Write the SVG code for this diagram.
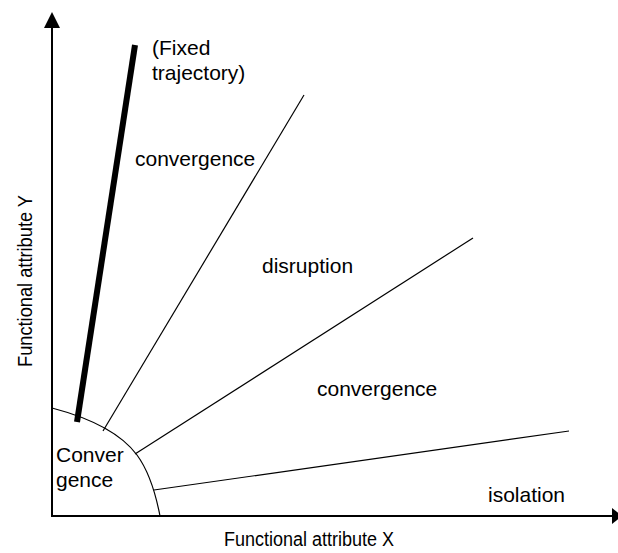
<svg xmlns="http://www.w3.org/2000/svg" width="618" height="553" viewBox="0 0 618 553">
<style>
text{font-family:"Liberation Sans",Arial,sans-serif;font-size:21px;fill:#000}
.ax{font-size:19.5px}
.thin{stroke:#000;stroke-width:1.2;fill:none}
</style>
<rect width="618" height="553" fill="#fff"/>
<g id="axes">
<line x1="52" y1="516" x2="52" y2="28" stroke="#000" stroke-width="2"/>
<polygon points="52,12 44,28 60,28" fill="#000"/>
<line x1="51" y1="516" x2="614" y2="516" stroke="#000" stroke-width="2"/>
<polygon points="612,508 622,516 612,524" fill="#000"/>
</g>
<g id="connectors">
<path class="thin" d="M52,408 C90,418 120,432 137,455 C148,470 155,490 160,516" stroke-width="2"/>
<line x1="77" y1="422" x2="135" y2="45" stroke="#000" stroke-width="6"/>
<line class="thin" x1="103" y1="431" x2="304" y2="95"/>
<line class="thin" x1="135" y1="454" x2="473" y2="238"/>
<line class="thin" x1="154" y1="490" x2="569" y2="431"/>
</g>
<g id="labels">
<text x="152" y="55">(Fixed</text>
<text x="152" y="80">trajectory)</text>
<text x="135" y="166">convergence</text>
<text x="262" y="273">disruption</text>
<text x="317" y="396">convergence</text>
<text x="488" y="502">isolation</text>
<text x="56" y="462">Conver</text>
<text x="56" y="487">gence</text>
<text class="ax" x="309" y="546" text-anchor="middle" textLength="170" lengthAdjust="spacingAndGlyphs">Functional attribute X</text>
<text class="ax" x="32" y="281" text-anchor="middle" transform="rotate(-90 32 281)" textLength="172" lengthAdjust="spacingAndGlyphs">Functional attribute Y</text>
</g>
</svg>
